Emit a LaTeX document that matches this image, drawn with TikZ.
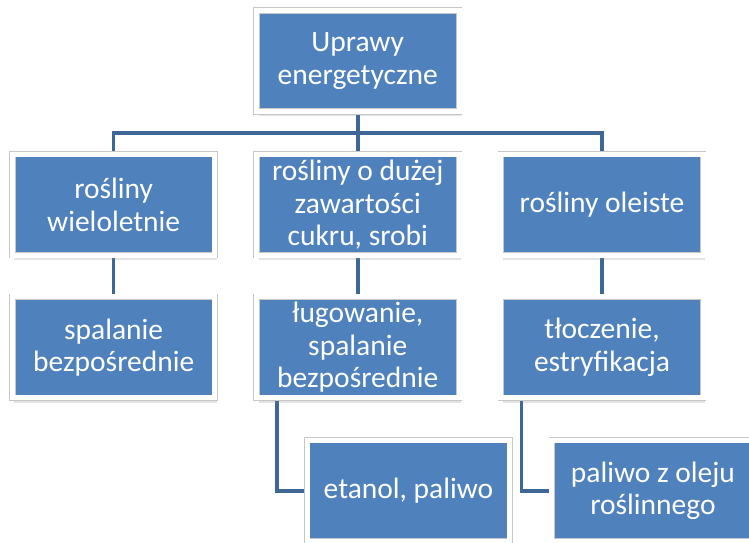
\documentclass[tikz,border=0pt]{standalone}
\usepackage{fontspec}
\setmainfont{Carlito}
\usetikzlibrary{shadows,backgrounds}
\definecolor{boxblue}{RGB}{79,129,189}
\definecolor{linkblue}{RGB}{62,103,150}
\tikzset{
	box/.style={fill=boxblue, draw=black!22, line width=0.6pt, double=white, double distance=5pt,
		minimum width=202.5pt, minimum height=101pt, inner sep=0pt, align=center, text=white,
		font=\fontsize{29.5}{32.5}\selectfont,
		drop shadow={opacity=0.22, shadow xshift=2pt, shadow yshift=-5pt}},
	link/.style={linkblue, line width=3.5pt}
}
\begin{document}
\begin{tikzpicture}[x=1pt,y=1pt]
	\useasboundingbox (0,0) rectangle (749,543);
	\clip (0,0) rectangle (749,543);

	\node[box] (upr) at (357.75,482) {Uprawy\\energetyczne};

	\node[box] (wiel) at (113.7,338.2) {rośliny\\wieloletnie};
	\node[box] (cukr) at (357.75,338.2) {rośliny o dużej\\zawartości\\cukru, srobi};
	\node[box] (olei) at (602,338.2) {rośliny oleiste};

	\node[box] (spal) at (113.7,195.5) {spalanie\\bezpośrednie};
	\node[box] (lug) at (357.75,195.5) {ługowanie,\\spalanie\\bezpośrednie};
	\node[box] (tlocz) at (602,195.5) {tłoczenie,\\estryfikacja};

	\node[box] (etan) at (408.5,52.2) {etanol, paliwo};
	\node[box] (pal) at (653,52.2) {paliwo z oleju\\roślinnego};

	\coordinate (bus) at (357.75,410);

	\begin{pgfonlayer}{background}
		\draw[link] (upr) -- (bus);
		\draw[link] (wiel) |- (bus) -| (olei);
		\draw[link] (bus) -- (cukr);
		\foreach \a/\b in {wiel/spal,cukr/lug,olei/tlocz}
			\draw[link] (\a) -- (\b);
		\draw[link] ([xshift=-81pt]lug.south) |- (etan.west);
		\draw[link] ([xshift=-80.5pt]tlocz.south) |- (pal.west);
	\end{pgfonlayer}
\end{tikzpicture}
\end{document}
